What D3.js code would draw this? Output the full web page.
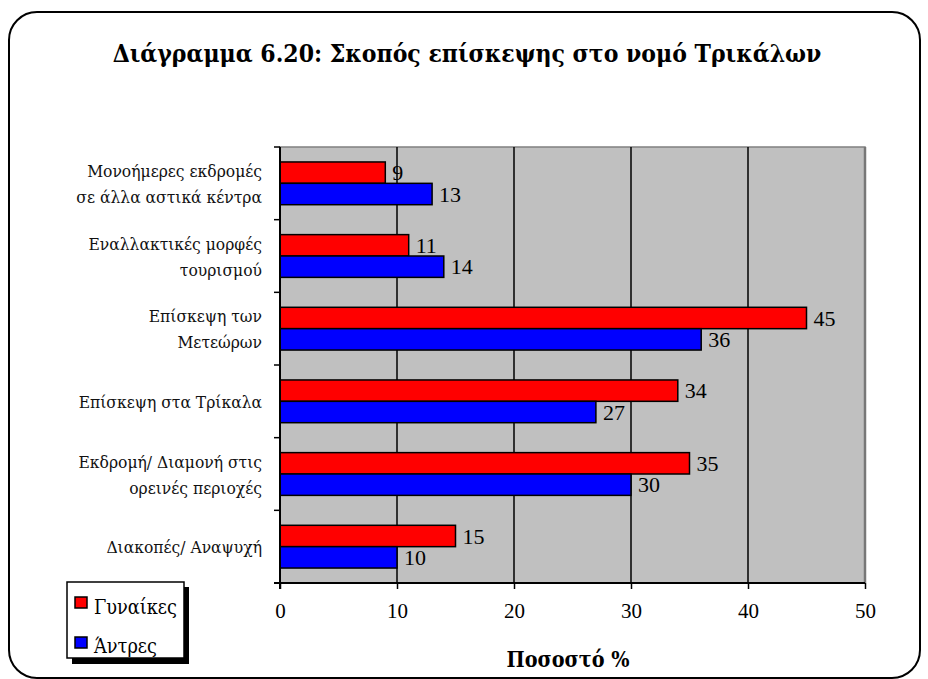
<!DOCTYPE html>
<html>
<head>
<meta charset="utf-8">
<script src="https://cdn.jsdelivr.net/npm/d3@7"></script>
<style>
  body { margin: 0; background: #fff; }
  text { font-family: "Liberation Serif", "DejaVu Serif Condensed", "DejaVu Serif", serif; }
  .gr { font-family: "DejaVu Serif Condensed", "DejaVu Serif", serif; }
</style>
</head>
<body>
<div id="chart"></div>
<script>
// data
var categories = [
  ["Μονοήμερες εκδρομές", "σε άλλα αστικά κέντρα"],
  ["Εναλλακτικές μορφές", "τουρισμού"],
  ["Επίσκεψη των", "Μετεώρων"],
  ["Επίσκεψη στα Τρίκαλα"],
  ["Εκδρομή/ Διαμονή στις", "ορεινές περιοχές"],
  ["Διακοπές/ Αναψυχή"]
];
var women = [9, 11, 45, 34, 35, 15];
var men = [13, 14, 36, 27, 30, 10];
var seriesNames = ["Γυναίκες", "Άντρες"];
var xTicks = [0, 10, 20, 30, 40, 50];

var svgWidth = 928;
var svgHeight = 679;

var plot = { left: 280, right: 865, top: 147, bottom: 583 };

var svg = d3.select("#chart")
  .append("svg")
  .attr("width", svgWidth)
  .attr("height", svgHeight);

// shrink/grow a text's font size so it spans the wanted width
function fitSize(sel, target) {
  var fs = parseFloat(sel.attr("font-size"));
  var w = sel.node().getComputedTextLength();
  var nfs = fs * target / w;
  sel.attr("font-size", nfs + "px");
  return nfs;
}

// outer rounded frame
svg.append("rect")
  .attr("x", 9).attr("y", 12)
  .attr("width", 911).attr("height", 666)
  .attr("rx", 28).attr("ry", 28)
  .attr("fill", "#fff")
  .attr("stroke", "#000")
  .attr("stroke-width", 2);

var title = svg.append("text")
  .attr("class", "gr")
  .attr("x", 467)
  .attr("y", 62)
  .attr("text-anchor", "middle")
  .attr("font-weight", "bold")
  .attr("font-size", "27px")
  .text("Διάγραμμα 6.20: Σκοπός επίσκεψης στο νομό Τρικάλων");
fitSize(title, 709);

var x = d3.scaleLinear()
  .domain([0, 50])
  .range([plot.left, plot.right]);

var idx = d3.range(categories.length);

var y = d3.scaleBand()
  .domain(idx)
  .range([plot.top, plot.bottom]);

var inner = d3.scaleBand()
  .domain([0, 1])
  .range([0, y.bandwidth()])
  .paddingOuter(0.7);

// plot background
svg.append("rect")
  .attr("x", plot.left)
  .attr("y", plot.top)
  .attr("width", plot.right - plot.left)
  .attr("height", plot.bottom - plot.top)
  .attr("fill", "#c0c0c0")
  .attr("stroke", "#808080")
  .attr("stroke-width", 1.5);

svg.append("line")
  .attr("x1", plot.right).attr("x2", plot.right)
  .attr("y1", plot.top).attr("y2", plot.bottom)
  .attr("stroke", "#777")
  .attr("stroke-width", 2.5);

// gridlines
svg.selectAll(".grid")
  .data(xTicks.slice(1, -1))
  .enter()
  .append("line")
  .attr("class", "grid")
  .attr("x1", d => x(d)).attr("x2", d => x(d))
  .attr("y1", plot.top).attr("y2", plot.bottom)
  .attr("stroke", "#000")
  .attr("stroke-width", 1.5);

// bars
var series = [women, men];
var colors = ["#ff0000", "#0000ff"];

series.forEach(function(vals, s) {
  svg.selectAll(".bar" + s)
    .data(vals)
    .enter()
    .append("rect")
    .attr("class", "bar" + s)
    .attr("x", x(0))
    .attr("y", (d, i) => y(i) + inner(s))
    .attr("width", d => x(d) - x(0))
    .attr("height", inner.bandwidth())
    .attr("fill", colors[s])
    .attr("stroke", "#000")
    .attr("stroke-width", 1.5);

  svg.selectAll(".val" + s)
    .data(vals)
    .enter()
    .append("text")
    .attr("class", "val" + s)
    .attr("x", d => x(d) + 7)
    .attr("y", (d, i) => y(i) + inner(s) + inner.bandwidth() / 2)
    .attr("dy", "0.35em")
    .attr("font-size", "22px")
    .text(d => d);
});

// x axis
var bottomAxis = d3.axisBottom(x)
  .tickValues(xTicks)
  .tickSize(6)
  .tickPadding(14);

var xg = svg.append("g")
  .attr("transform", `translate(0, ${plot.bottom})`)
  .call(bottomAxis);
xg.select(".domain").attr("stroke-width", 2).attr("d", `M${plot.left - 6},0H${plot.right}`);
xg.selectAll(".tick line").attr("stroke-width", 1.5);
xg.selectAll(".tick text")
  .attr("font-family", "Liberation Serif, serif")
  .attr("font-size", "21px")
  .attr("fill", "#000");

// y axis: line with ticks at category boundaries
svg.append("line")
  .attr("x1", plot.left).attr("x2", plot.left)
  .attr("y1", plot.top).attr("y2", plot.bottom + 6)
  .attr("stroke", "#000")
  .attr("stroke-width", 2);

svg.selectAll(".ytick")
  .data(d3.range(categories.length + 1))
  .enter()
  .append("line")
  .attr("class", "ytick")
  .attr("x1", plot.left - 6).attr("x2", plot.left)
  .attr("y1", d => plot.top + d * y.step())
  .attr("y2", d => plot.top + d * y.step())
  .attr("stroke", "#000")
  .attr("stroke-width", 1.5);

// size the category font from the first label's width in the picture
var probe = svg.append("text")
  .attr("class", "gr")
  .attr("font-size", "17px")
  .text(categories[0][0]);
var catSize = fitSize(probe, 175);
probe.remove();

var catLabels = svg.selectAll(".cat")
  .data(categories)
  .enter()
  .append("text")
  .attr("class", "cat gr")
  .attr("text-anchor", "end")
  .attr("font-size", catSize + "px")
  .attr("fill", "#111");

catLabels.each(function(lines, i) {
  var t = d3.select(this);
  var cy = y(i) + y.bandwidth() / 2;
  lines.forEach(function(line, k) {
    t.append("tspan")
      .attr("x", 262)
      .attr("y", cy + (k - (lines.length - 1) / 2) * 26 + 6.5)
      .text(line);
  });
});

// axis title
var axTitle = svg.append("text")
  .attr("class", "gr")
  .attr("x", 568)
  .attr("y", 667)
  .attr("text-anchor", "middle")
  .attr("font-weight", "bold")
  .attr("font-size", "24px")
  .text("Ποσοστό %");
fitSize(axTitle, 123);

// legend
var legend = svg.append("g");
legend.append("rect")
  .attr("x", 72).attr("y", 587)
  .attr("width", 117).attr("height", 77)
  .attr("fill", "#000");
legend.append("rect")
  .attr("x", 67).attr("y", 582)
  .attr("width", 117).attr("height", 76)
  .attr("fill", "#fff")
  .attr("stroke", "#000")
  .attr("stroke-width", 1.5);

var legSize = null;
seriesNames.forEach(function(name, s) {
  legend.append("rect")
    .attr("x", 75).attr("y", 597 + s * 40)
    .attr("width", 12).attr("height", 11)
    .attr("fill", colors[s])
    .attr("stroke", "#000")
    .attr("stroke-width", 1.5);
  var lt = legend.append("text")
    .attr("class", "gr")
    .attr("x", 94).attr("y", 614 + s * 39)
    .attr("font-size", "21px")
    .text(name);
  if (s === 0) legSize = fitSize(lt, 83);
  else lt.attr("font-size", legSize + "px");
});
</script>
</body>
</html>
